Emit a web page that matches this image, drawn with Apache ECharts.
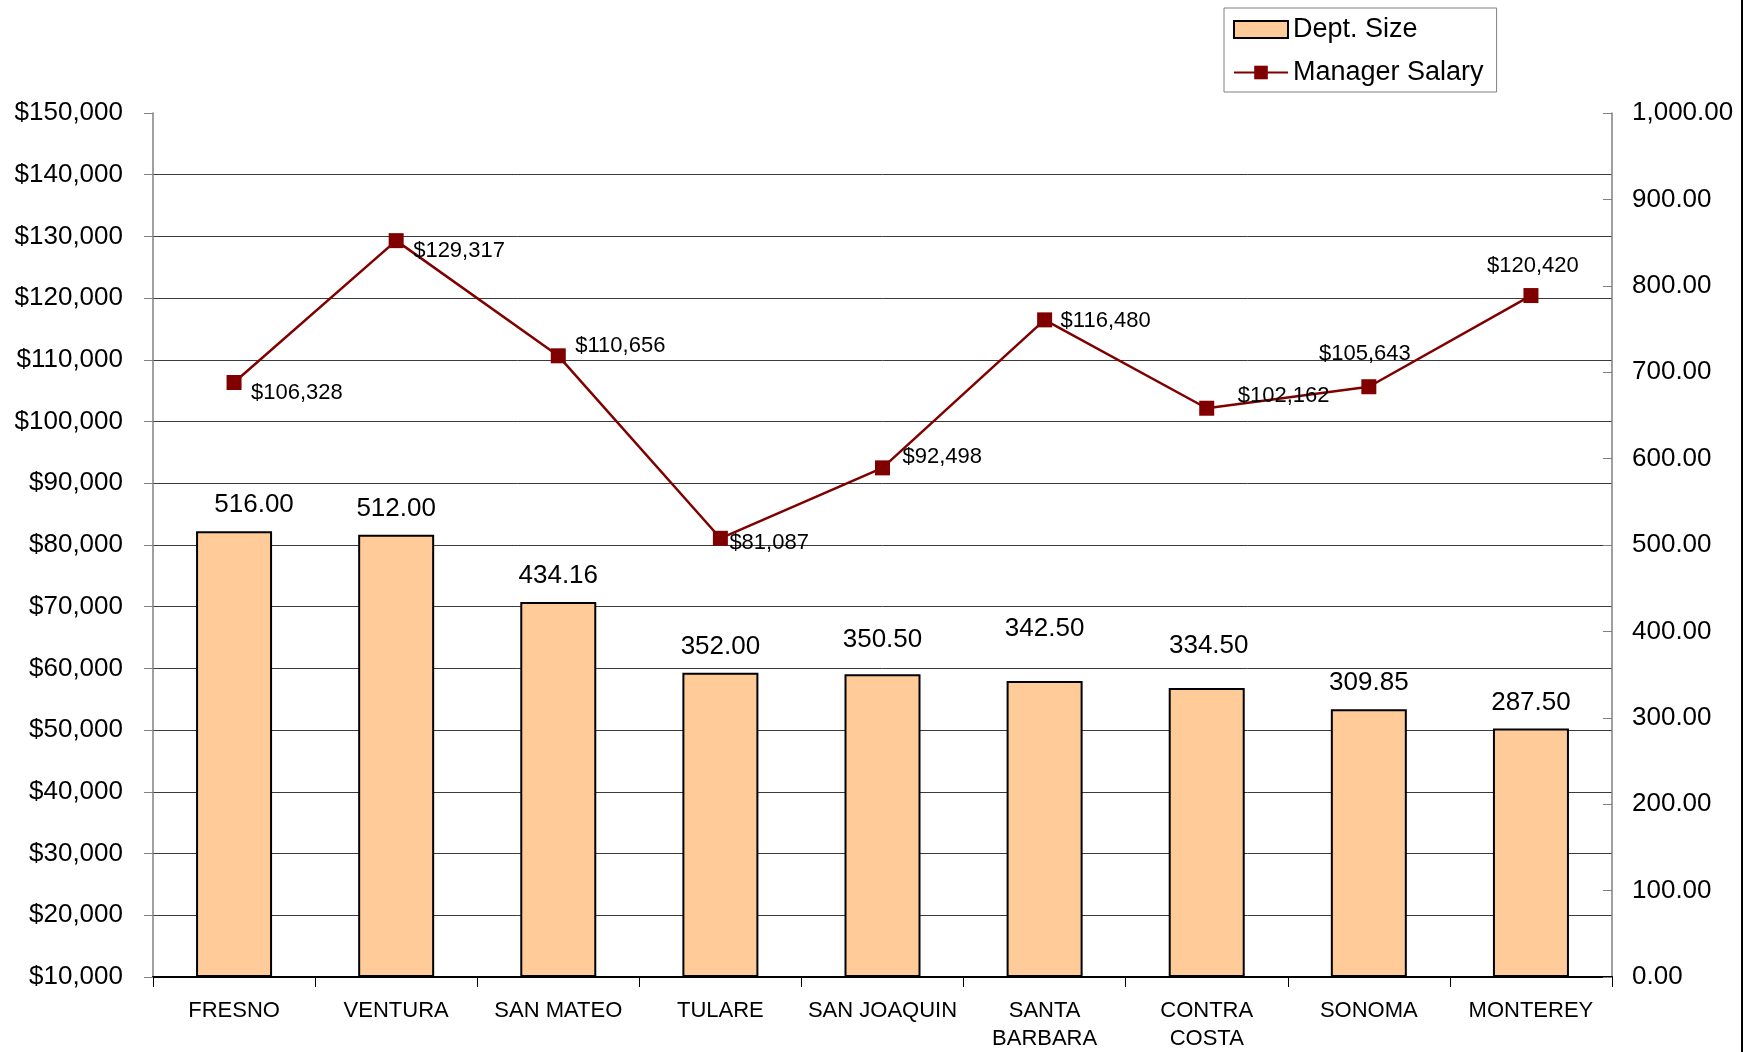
<!DOCTYPE html>
<html>
<head>
<meta charset="utf-8">
<script src="https://cdn.jsdelivr.net/npm/echarts@6/dist/echarts.min.js"></script>
<style>
html,body{margin:0;padding:0;background:#fff;}
#chart{width:1760px;height:1052px;}
</style>
</head>
<body>
<div id="chart"></div>
<script>
// ---- data ----
const categories = ['FRESNO','VENTURA','SAN MATEO','TULARE','SAN JOAQUIN','SANTA\nBARBARA','CONTRA\nCOSTA','SONOMA','MONTEREY'];
const deptSize = [516.00, 512.00, 434.16, 352.00, 350.50, 342.50, 334.50, 309.85, 287.50];
const managerSalary = [106328, 129317, 110656, 81087, 92498, 116480, 102162, 105643, 120420];
const seriesNames = ['Dept. Size', 'Manager Salary'];

// ---- label placement (style only) ----
const barLabelOffsets = [[20,0],[0,0],[0,0],[0,0],[0,-8],[0,-26],[2,-16],[0,0],[0,0]];
const lineLabelPlacement = [
  ['right',[9.5,10]],['right',[9.5,10]],['right',[9.5,-10]],['right',[1.5,5]],
  ['right',[12.5,-11]],['right',[8.5,1]],['right',[23.5,-12]],['top',[-4,-14.5]],['top',[2,-11.5]]
];

const FONT = '"Liberation Sans", Arial, sans-serif';
const fmtMoney = v => '$' + Math.round(v).toLocaleString('en-US');
const fmt2 = v => v.toLocaleString('en-US',{minimumFractionDigits:2,maximumFractionDigits:2});

const chart = echarts.init(document.getElementById('chart'), null, {renderer:'canvas'});
chart.setOption({
  backgroundColor:'#fff',
  animation:false,
  textStyle:{fontFamily:FONT,color:'#000'},
  legend:{
    left:1224, top:8,
    orient:'vertical',
    padding:[8,13,6,9],
    itemGap:16,
    itemWidth:54, itemHeight:17,
    borderColor:'#808080', borderWidth:1,
    textStyle:{fontSize:27,color:'#000',fontFamily:FONT},
    data:[{name:seriesNames[0],icon:'rect'},{name:seriesNames[1]}]
  },
  grid:{left:153,right:148,top:113,bottom:75,outerBoundsMode:'none',containLabel:false},
  xAxis:{
    type:'category',
    data:categories,
    boundaryGap:true,
    axisLine:{lineStyle:{color:'#000',width:2}},
    axisTick:{show:true,length:10,lineStyle:{color:'#000'}},
    axisLabel:{fontSize:22,color:'#000',margin:20,lineHeight:28,interval:0,fontFamily:FONT}
  },
  yAxis:[
    {
      type:'value', min:10000, max:150000, interval:10000, position:'left',
      axisLine:{show:true,lineStyle:{color:'#808080',width:1.5}},
      axisTick:{show:true,length:9,lineStyle:{color:'#808080'}},
      axisLabel:{fontSize:26,color:'#000',margin:30,formatter:fmtMoney,fontFamily:FONT},
      splitLine:{show:true,showMaxLine:false,lineStyle:{color:'#3a3a3a',width:1}}
    },
    {
      type:'value', min:0, max:1000, interval:100, position:'right',
      axisLine:{show:true,lineStyle:{color:'#808080',width:1.5}},
      axisTick:{show:true,inside:true,length:9,lineStyle:{color:'#808080'}},
      axisLabel:{fontSize:26,color:'#000',margin:20,formatter:fmt2,fontFamily:FONT},
      splitLine:{show:false}
    }
  ],
  series:[
    {
      name:seriesNames[0],
      type:'bar',
      yAxisIndex:1,
      barWidth:76,
      itemStyle:{color:'#FFCC99',borderColor:'#000',borderWidth:2},
      label:{show:true,position:'top',distance:13,fontSize:26,color:'#000',fontFamily:FONT,
        formatter:p=>fmt2(p.value)},
      data:deptSize.map((v,i)=>({value:v,label:{offset:barLabelOffsets[i]}})),
      z:2
    },
    {
      name:seriesNames[1],
      type:'line',
      yAxisIndex:0,
      symbol:'rect',
      symbolSize:15,
      lineStyle:{color:'#800000',width:2.5},
      itemStyle:{color:'#800000'},
      label:{show:true,fontSize:22,color:'#000',distance:0,fontFamily:FONT,
        formatter:p=>fmtMoney(p.value)},
      data:managerSalary.map((v,i)=>({value:v,label:{position:lineLabelPlacement[i][0],offset:lineLabelPlacement[i][1]}})),
      z:3
    }
  ],
  graphic:[
    {type:'line',shape:{x1:1742,y1:0,x2:1742,y2:1052},style:{stroke:'#000',lineWidth:2},silent:true}
  ]
});
</script>
</body>
</html>
